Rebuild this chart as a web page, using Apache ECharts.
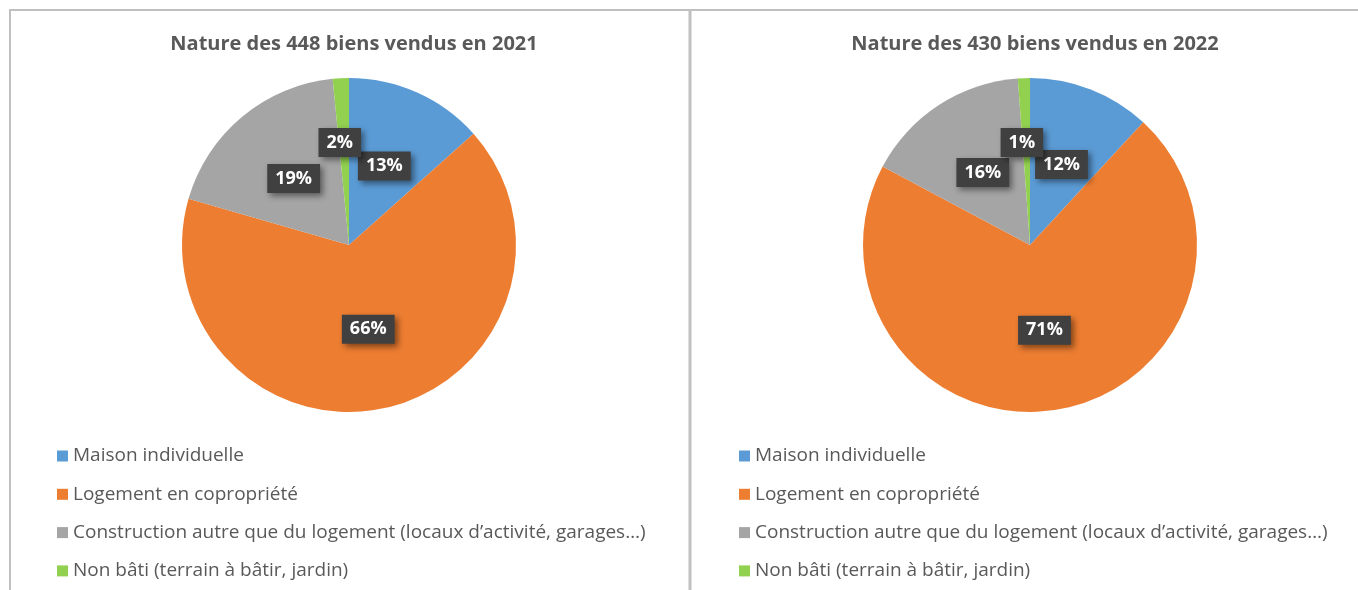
<!DOCTYPE html>
<html>
<head>
<meta charset="utf-8">
<script src="https://cdn.jsdelivr.net/npm/echarts@6/dist/echarts.min.js"></script>
<style>
  html, body { margin: 0; padding: 0; background: #fff; }
  #main { width: 1358px; height: 590px; }
</style>
</head>
<body>
<div id="main"></div>
<script>
// categories and counts
let categories = [
  'Maison individuelle',
  'Logement en copropriété',
  'Construction autre que du logement (locaux d\u2019activité, garages\u2026)',
  'Non bâti (terrain à bâtir, jardin)'
];
let years = ['2021', '2022'];
let totals = [448, 430];
let values2021 = [60, 296, 85, 7];
let values2022 = [51, 305, 69, 5];

let colors = ['#5b9bd5', '#ed7d31', '#a5a5a5', '#92d050'];
let txt = '#595959';
let font = 'Open Sans';

let chart = echarts.init(document.getElementById('main'));

function mkData(vals){
  return vals.map((v, i) => ({ name: categories[i], value: v }));
}

function mkSeries(vals, cx){
  return {
    type: 'pie',
    radius: 167,
    center: [cx, 245],
    startAngle: 90,
    clockwise: true,
    avoidLabelOverlap: false,
    silent: true,
    itemStyle: { borderWidth: 0 },
    label: {
      show: true,
      position: 'inside',
      formatter: p => Math.round(p.percent) + '%',
      color: '#fff',
      fontFamily: font,
      fontWeight: 'bold',
      fontSize: 18,
      backgroundColor: '#404040',
      padding: [6, 8, 5, 8],
      shadowColor: 'rgba(0,0,0,0.45)',
      shadowBlur: 6,
      shadowOffsetX: 3,
      shadowOffsetY: 3
    },
    labelLine: { show: false },
    // the tiny last slice has its label pushed outward like the original
    labelLayout: p => p.dataIndex === 3 ? { dx: -5, dy: -16 } : {},
    data: mkData(vals)
  };
}

function mkLegend(x){
  return {
    orient: 'vertical',
    left: x,
    top: 440,
    icon: 'rect',
    itemWidth: 11,
    itemHeight: 11,
    itemGap: 16.3,
    selectedMode: false,
    textStyle: { color: txt, fontFamily: font, fontSize: 19, lineHeight: 22 },
    data: categories
  };
}

chart.setOption({
  animation: false,
  color: colors,
  title: years.map((y, i) => ({
    text: 'Nature des ' + totals[i] + ' biens vendus en ' + y,
    left: i === 0 ? 349 : 1030,
    top: 29,
    textAlign: 'center',
    textStyle: { color: txt, fontFamily: font, fontWeight: 'bold', fontSize: 20 }
  })),
  legend: [mkLegend(52), mkLegend(734)],
  series: [mkSeries(values2021, 349), mkSeries(values2022, 1030)],
  graphic: [
    { type: 'line', shape: { x1: 9, y1: 10, x2: 1358, y2: 10 }, style: { stroke: '#c0c0c0', lineWidth: 2 } },
    { type: 'line', shape: { x1: 10, y1: 9, x2: 10, y2: 590 }, style: { stroke: '#c0c0c0', lineWidth: 2 } },
    { type: 'line', shape: { x1: 690, y1: 9, x2: 690, y2: 590 }, style: { stroke: '#c0c0c0', lineWidth: 3 } }
  ]
});
</script>
</body>
</html>
